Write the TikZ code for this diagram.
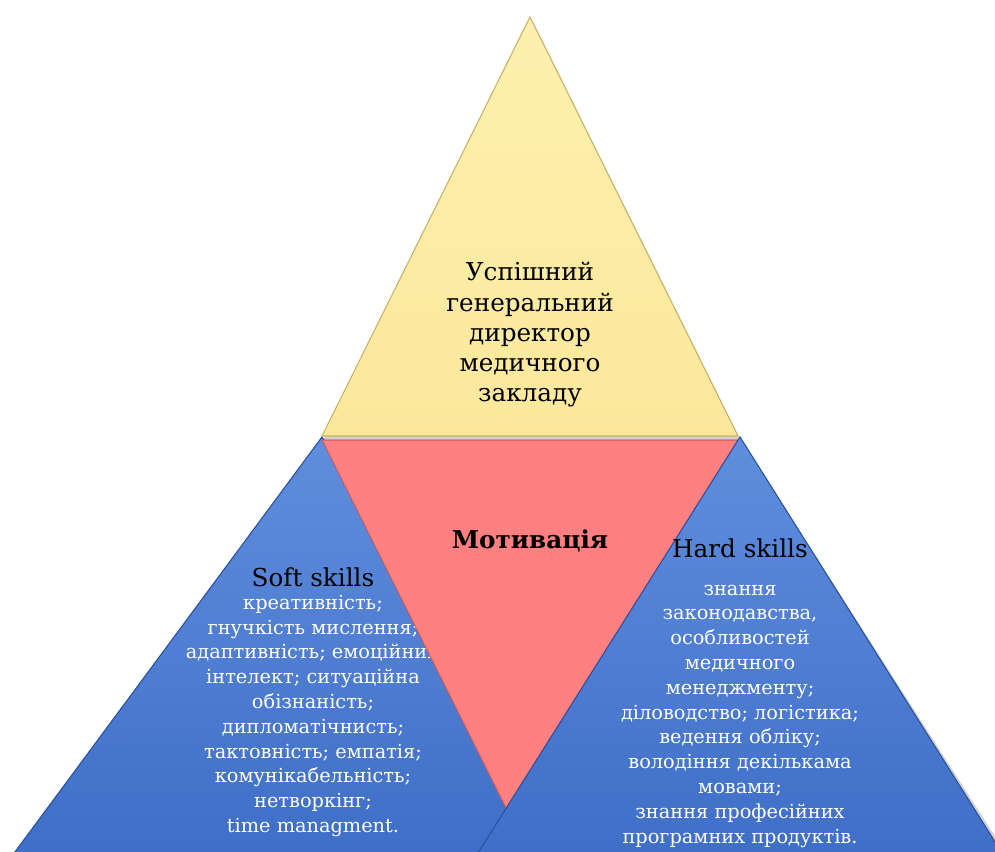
\documentclass[tikz,border=0pt]{standalone}
\usepackage{fontspec}
\setmainfont{DejaVu Serif}
\newfontfamily\tnr{DejaVu Serif}
\definecolor{ylw}{RGB}{252,232,155}
\definecolor{ylwtop}{RGB}{253,240,175}
\definecolor{ylwedge}{RGB}{200,178,100}
\definecolor{redf}{RGB}{255,128,128}
\definecolor{rededge}{RGB}{200,90,90}
\definecolor{bluetop}{RGB}{96,142,222}
\definecolor{bluebot}{RGB}{56,104,194}
\definecolor{blueedge}{RGB}{40,80,160}
\begin{document}
\begin{tikzpicture}[x=0.75pt,y=-0.75pt,
  shadowstyle/.style={fill=black,opacity=0.18},
  bigtext/.style={align=center,font=\tnr\fontsize{18.5}{22.7}\selectfont,text=black,inner sep=0pt},
  listtext/.style={align=center,font=\tnr\fontsize{14.5}{18.6}\selectfont,text=white,inner sep=0pt}]
\useasboundingbox (0,0) rectangle (995,852);
\clip (0,0) rectangle (995,852);
% left blue triangle
\fill[shadowstyle] (324,441) -- (-46,941) -- (694,941) -- cycle;
\shade[top color=bluetop,bottom color=bluebot,draw=blueedge,line width=0.8pt]
  (322,437) -- (-48,937) -- (692,937) -- cycle;
\node[bigtext] (softtitle) at (313,577) {Soft skills};
\node[listtext] (softlist) at (313,716) {креативність;\\гнучкість мислення;\\адаптивність; емоційний\\інтелект; ситуаційна\\обізнаність;\\дипломатічнисть;\\тактовність; емпатія;\\комунікабельність;\\нетворкінг;\\time managment.};
% yellow triangle
\fill[shadowstyle] (532,20) -- (324,439) -- (740,439) -- cycle;
\shade[top color=ylwtop,bottom color=ylw,draw=ylwedge,line width=0.8pt]
  (530,17) -- (322,436) -- (738,436) -- cycle;
\node[bigtext] (ceo) at (530,335) {Успішний\\генеральний\\директор\\медичного\\закладу};
% red triangle
\fill[shadowstyle] (324,443) -- (740,443) -- (532,859) -- cycle;
\fill[redf,draw=rededge,line width=0.8pt] (322,440) -- (738,440) -- (530,856) -- cycle;
\node[bigtext,font=\tnr\fontsize{18.5}{22.7}\selectfont\bfseries] (motiv) at (530,541) {Мотивація};
% right blue triangle
\fill[shadowstyle] (742,441) -- (427,941) -- (1062,941) -- cycle;
\shade[top color=bluetop,bottom color=bluebot,draw=blueedge,line width=0.8pt]
  (740,437) -- (425,937) -- (1055,937) -- cycle;
\node[bigtext] (hardtitle) at (740,548) {Hard skills};
\node[listtext] (hardlist) at (740,716) {знання\\законодавства,\\особливостей\\медичного\\менеджменту;\\діловодство; логістика;\\ведення обліку;\\володіння декількама\\мовами;\\знання професійних\\програмних продуктів.};
\end{tikzpicture}
\end{document}
